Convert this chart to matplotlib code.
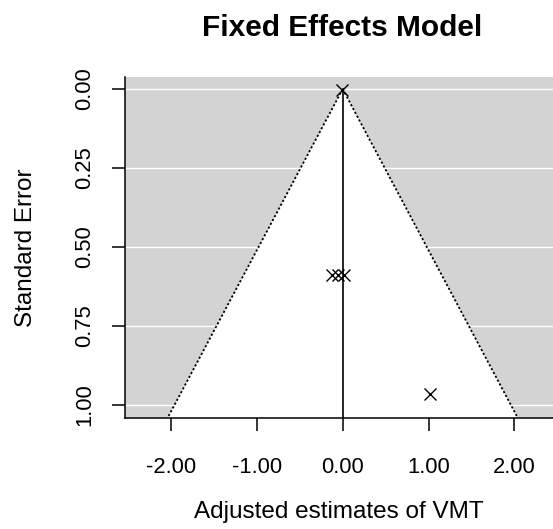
import numpy as np
import matplotlib
matplotlib.use('Agg')
from matplotlib import pyplot as plt

plt.rcParams['font.family'] = ['Liberation Sans', 'DejaVu Sans']

# study estimates and their standard errors
estimates = [-0.01, -0.13, -0.06, 0.02, 1.02]
std_errors = [0.003, 0.588, 0.588, 0.588, 0.965]

# pooled fixed effects estimate
fe_estimate = 0.0

x_ticks = [-2, -1, 0, 1, 2]
x_tick_labels = ['-2.00', '-1.00', '0.00', '1.00', '2.00']
y_ticks = [0.0, 0.25, 0.5, 0.75, 1.0]
y_tick_labels = ['0.00', '0.25', '0.50', '0.75', '1.00']

fig = plt.figure(figsize=(5.53, 5.29), dpi=100)
ax = fig.add_axes([0.226, 0.2098, 0.774, 0.6447])

y_top = -0.038
y_bottom = 1.041
ax.set_xlim(-2.536, 2.45)
ax.set_ylim(y_bottom, y_top)

# grey background with white grid lines
ax.set_facecolor('#d3d3d3')
for yt in y_ticks:
    ax.axhline(yt, color='white', lw=1, zorder=1)

# funnel region (pseudo confidence limits)
z = 1.96
se_line = np.array([0, y_bottom])
left = fe_estimate - z * se_line
right = fe_estimate + z * se_line
ax.fill([left[0], left[1], right[1]], [0, y_bottom, y_bottom],
        color='white', zorder=2, lw=0)
ax.plot(left, se_line, color='black', ls=(0, (1.2, 1.2)), lw=1.3, zorder=3)
ax.plot(right, se_line, color='black', ls=(0, (1.2, 1.2)), lw=1.3, zorder=3)
ax.plot([fe_estimate, fe_estimate], [0, y_bottom], color='black', lw=1.2, zorder=3)

# studies
ax.plot(estimates, std_errors, 'x', color='black', ms=8, mew=1.0, zorder=4)

ax.set_xticks(x_ticks)
ax.set_xticklabels(x_tick_labels)
ax.set_yticks(y_ticks)
ax.set_yticklabels(y_tick_labels, rotation=90, va='center')
ax.tick_params(axis='both', direction='out', length=9.4, width=1.1,
               labelsize=15.8, colors='black')
ax.tick_params(axis='x', pad=19)
ax.tick_params(axis='y', pad=12)

for side in ['top', 'right']:
    ax.spines[side].set_visible(False)
for side in ['left', 'bottom']:
    ax.spines[side].set_linewidth(1.1)
    ax.spines[side].set_zorder(5)

ax.set_xlabel('Adjusted estimates of VMT', fontsize=17.5, labelpad=16)
ax.set_ylabel('Standard Error', fontsize=17.5, labelpad=27)
fig.text(342 / 553, 1 - 28 / 529, 'Fixed Effects Model', fontsize=21.5,
         fontweight='bold', ha='center', va='center')

fig.savefig('out.png', dpi=100)
